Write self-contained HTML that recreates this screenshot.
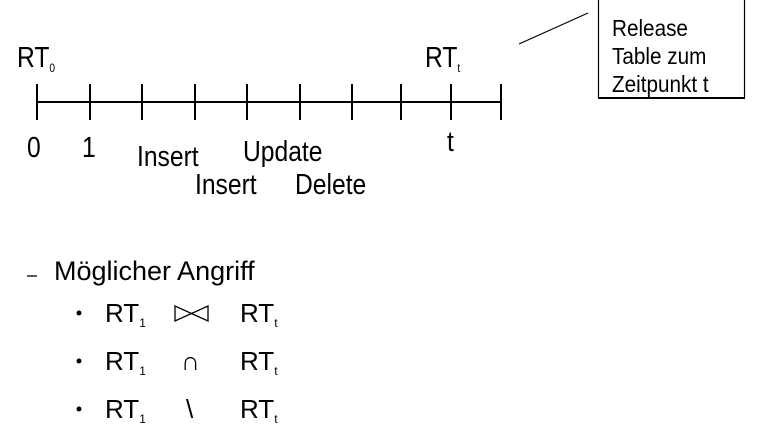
<!DOCTYPE html>
<html><head><style>
body{margin:0;width:768px;height:439px;background:#fff;position:relative;overflow:hidden;font-family:"Liberation Sans",Arial,sans-serif;color:#000}
.t{position:absolute;white-space:nowrap;line-height:1}
.n{transform:scaleX(0.85);transform-origin:0 0}
sub{font-size:12px;vertical-align:-5px}
</style></head><body>
<svg width="768" height="439" style="position:absolute;left:0;top:0">
<line x1="37" y1="102" x2="501" y2="102" stroke="#000" stroke-width="2"/>
<g stroke="#000" stroke-width="2">
<line x1="37" y1="84" x2="37" y2="120"/><line x1="90" y1="84" x2="90" y2="120"/>
<line x1="142" y1="84" x2="142" y2="120"/><line x1="195" y1="84" x2="195" y2="120"/>
<line x1="247" y1="84" x2="247" y2="120"/><line x1="300" y1="84" x2="300" y2="120"/>
<line x1="352" y1="84" x2="352" y2="120"/><line x1="401" y1="84" x2="401" y2="120"/>
<line x1="451" y1="84" x2="451" y2="120"/><line x1="501" y1="84" x2="501" y2="120"/>
</g>
<line x1="519" y1="44" x2="588" y2="13" stroke="#000" stroke-width="1.2"/>
<rect x="598.5" y="-2" width="146" height="100" fill="none" stroke="#000" stroke-width="1.2"/>
<line x1="598" y1="98" x2="745" y2="98" stroke="#000" stroke-width="2"/>
<line x1="27" y1="276" x2="37" y2="276" stroke="#000" stroke-width="1.3"/>
<g fill="#000"><circle cx="79" cy="313" r="2.5"/><circle cx="79" cy="361" r="2.5"/><circle cx="79" cy="409" r="2.5"/></g>
<path d="M175 306 L175 321 L208 306 L208 321 Z" fill="none" stroke="#000" stroke-width="1.3"/>
</svg>
<div class="t n" style="left:17px;top:44px;font-size:29px">RT<sub>0</sub></div>
<div class="t n" style="left:425px;top:44px;font-size:29px">RT<sub>t</sub></div>
<div class="t n" style="left:27px;top:134px;font-size:29px">0</div>
<div class="t n" style="left:82px;top:134px;font-size:29px">1</div>
<div class="t n" style="left:137px;top:143px;font-size:29px">Insert</div>
<div class="t n" style="left:243px;top:138px;font-size:29px">Update</div>
<div class="t n" style="left:195px;top:171px;font-size:29px">Insert</div>
<div class="t n" style="left:295px;top:171px;font-size:29px">Delete</div>
<div class="t n" style="left:447px;top:128px;font-size:29px">t</div>
<div class="t n" style="left:612px;top:14px;font-size:23px;line-height:28px;transform:scaleX(0.9)">Release<br>Table zum<br>Zeitpunkt t</div>
<div class="t" style="left:54px;top:258px;font-size:27px">Möglicher Angriff</div>
<div class="t" style="left:105px;top:300px;font-size:26px">RT<sub>1</sub></div>
<div class="t" style="left:240px;top:300px;font-size:26px">RT<sub>t</sub></div>
<div class="t" style="left:105px;top:348px;font-size:26px">RT<sub>1</sub></div>
<div class="t" style="left:181px;top:348px;font-size:26px">∩</div>
<div class="t" style="left:240px;top:348px;font-size:26px">RT<sub>t</sub></div>
<div class="t" style="left:105px;top:396px;font-size:26px">RT<sub>1</sub></div>
<div class="t" style="left:186px;top:396px;font-size:26px">\</div>
<div class="t" style="left:240px;top:396px;font-size:26px">RT<sub>t</sub></div>
</body></html>
